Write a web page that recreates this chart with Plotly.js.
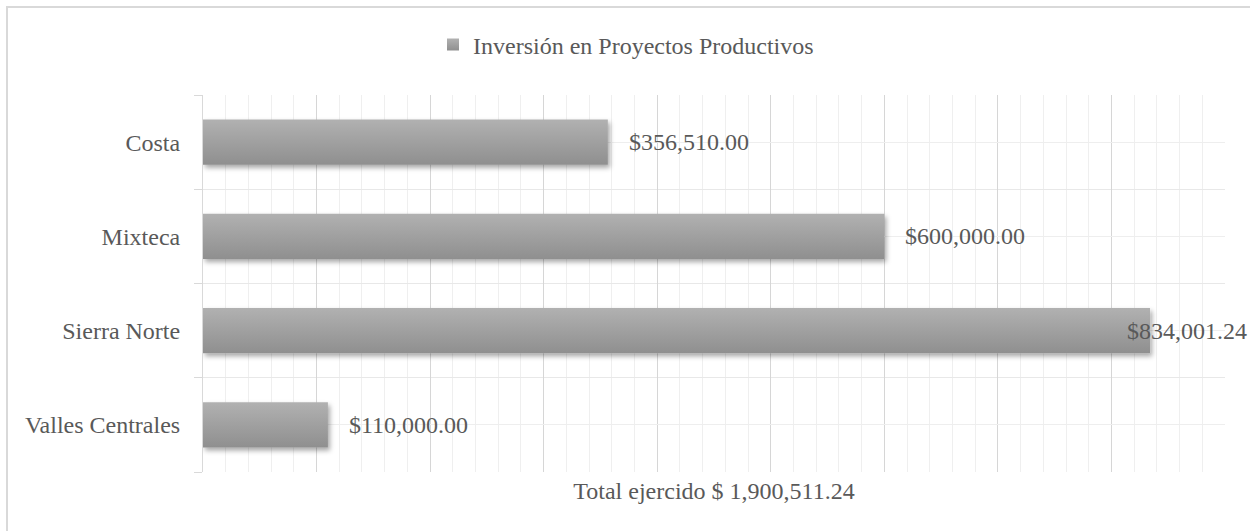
<!DOCTYPE html>
<html><head><meta charset="utf-8">
<script src="https://cdn.plot.ly/plotly-3.0.1.min.js"></script>
<style>
body{margin:0;background:#fff;overflow:hidden}
#frame{position:absolute;left:6px;top:6px;width:1400px;height:700px;border:2px solid #d9d9d9;pointer-events:none}
</style>
</head><body>
<div id="chart" style="width:1250px;height:531px"></div>
<div id="frame"></div>
<script>
// Data (top to bottom as shown)
const categories = ['Costa', 'Mixteca', 'Sierra Norte', 'Valles Centrales'];
const values = [356510.00, 600000.00, 834001.24, 110000.00];
const seriesName = 'Inversión en Proyectos Productivos';
const totalPrefix = 'Total ejercido $ ';

const FONT = '"Liberation Serif", "Times New Roman", Times, serif';
const FS = 24;
const TXT = '#595959';
const fmt = v => '$' + v.toLocaleString('en-US', {minimumFractionDigits: 2, maximumFractionDigits: 2});
const total = values.reduce((a, b) => a + b, 0);
const idx = categories.map((_, i) => i);
const maxV = Math.max(...values);

const data = [{
  type: 'bar',
  orientation: 'h',
  name: seriesName,
  x: values,
  y: idx,
  width: 0.48,
  marker: {color: '#a3a3a3', line: {width: 0}},
  hoverinfo: 'skip',
  showlegend: true
}];

const annotations = values.map((v, i) => ({
  x: v, y: i, xref: 'x', yref: 'y',
  text: fmt(v), showarrow: false,
  xanchor: 'left', yanchor: 'middle',
  xshift: v === maxV ? -25 : 19,
  font: {family: FONT, size: FS, color: TXT}
}));

const layout = {
  width: 1250, height: 531,
  margin: {l: 203, r: 25, t: 95, b: 59, pad: 0},
  paper_bgcolor: 'rgba(0,0,0,0)',
  plot_bgcolor: '#ffffff',
  font: {family: FONT, size: FS, color: TXT},
  showlegend: true,
  legend: {
    orientation: 'h',
    xref: 'container', yref: 'container',
    x: 433 / 1250, xanchor: 'left',
    y: 1 - 45 / 531, yanchor: 'middle',
    font: {family: FONT, size: FS, color: TXT},
    bgcolor: 'rgba(0,0,0,0)'
  },
  xaxis: {
    range: [0, 900000],
    dtick: 100000, tick0: 0,
    showticklabels: false, ticks: '',
    showgrid: true, gridcolor: '#d6d6d6', gridwidth: 1,
    zeroline: false, showline: false,
    minor: {dtick: 20000, tick0: 0, showgrid: true, gridcolor: '#efefef', gridwidth: 1, ticks: ''},
    title: {text: totalPrefix + total.toLocaleString('en-US', {minimumFractionDigits: 2, maximumFractionDigits: 2}),
            font: {family: FONT, size: FS, color: TXT}, standoff: 10},
    automargin: false, fixedrange: true
  },
  yaxis: {
    range: [categories.length - 0.5, -0.5],
    tickmode: 'array', tickvals: idx, ticktext: categories,
    ticks: '', ticklabelstandoff: 17,
    showgrid: true, gridcolor: '#eeeeee', gridwidth: 1,
    zeroline: false,
    showline: true, linecolor: '#d9d9d9', linewidth: 1,
    minor: {tick0: 0.5, dtick: 1, showgrid: true, gridcolor: '#e8e8e8', gridwidth: 1,
            ticks: 'outside', ticklen: 8, tickcolor: '#d9d9d9', tickwidth: 1},
    tickfont: {family: FONT, size: FS, color: TXT},
    automargin: false, fixedrange: true
  },
  annotations: annotations
};

Plotly.newPlot('chart', data, layout, {staticPlot: true, displayModeBar: false}).then(gd => {
  const ns = 'http://www.w3.org/2000/svg';
  const svg = gd.querySelector('svg.main-svg');
  const defs = document.createElementNS(ns, 'defs');
  defs.innerHTML =
    '<linearGradient id="barGrad" x1="0" y1="0" x2="0" y2="1">' +
    '<stop offset="0" stop-color="#b1b1b1"/><stop offset="1" stop-color="#8f8f8f"/></linearGradient>' +
    '<filter id="barShadow" x="-5%" y="-30%" width="115%" height="170%">' +
    '<feDropShadow dx="2" dy="3" stdDeviation="2.5" flood-color="#000" flood-opacity="0.35"/></filter>';
  svg.insertBefore(defs, svg.firstChild);
  gd.querySelectorAll('.bars .point path').forEach(p => {
    p.style.fill = 'url(#barGrad)';
    p.setAttribute('filter', 'url(#barShadow)');
  });
  gd.querySelectorAll('.legend .legendpoints path').forEach(p => {
    p.style.fill = 'url(#barGrad)';
  });
});
</script>
</body></html>
